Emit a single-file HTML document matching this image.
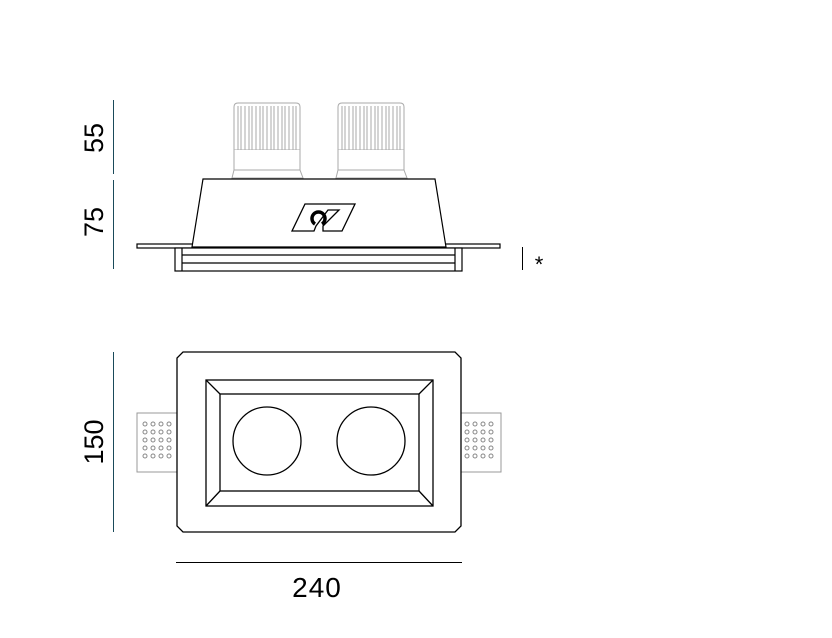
<!DOCTYPE html>
<html><head><meta charset="utf-8"><style>body{margin:0;background:#fff}svg{display:block}</style></head><body>
<svg width="832" height="638" viewBox="0 0 832 638" xmlns="http://www.w3.org/2000/svg" font-family="Liberation Sans, sans-serif">
<g stroke="#1a4a5a" stroke-width="1">
<line x1="113.5" y1="100" x2="113.5" y2="174"/>
<line x1="113.5" y1="180" x2="113.5" y2="269"/>
<line x1="113.5" y1="352" x2="113.5" y2="532"/>
</g>
<g font-size="27" fill="#000" text-anchor="middle">
<text transform="translate(103,138) rotate(-90)">55</text>
<text transform="translate(103,222) rotate(-90)">75</text>
<text transform="translate(103,442) rotate(-90)">150</text>
<text x="317" y="597" font-size="28" letter-spacing="1">240</text>
<text x="539" y="272" font-size="22">*</text>
</g>
<line x1="176" y1="562.5" x2="462" y2="562.5" stroke="#000"/>
<line x1="522.5" y1="247" x2="522.5" y2="270" stroke="#000"/>
<g stroke="#aaa" fill="#fff" stroke-width="1">
<path d="M234,150 L234,107 Q234,103 238,103 L296,103 Q300,103 300,107 L300,150 Z"/>
<path d="M234,150 L234,170 L232,178 L303,178 L300,170 L300,150"/>
<line x1="234" y1="170" x2="300" y2="170"/>
<path d="M338,150 L338,107 Q338,103 342,103 L400,103 Q404,103 404,107 L404,150 Z"/>
<path d="M338,150 L338,170 L336,178 L407,178 L404,170 L404,150"/>
<line x1="338" y1="170" x2="404" y2="170"/>
</g>
<g stroke="#aaa" stroke-width="1">
<path d="M238,106V150M241,106V150M245,106V150M249,106V150M252,106V150M256,106V150M260,106V150M263,106V150M267,106V150M271,106V150M274,106V150M278,106V150M282,106V150M285,106V150M289,106V150M293,106V150M296,106V150"/>
<path d="M342,106V150M345,106V150M349,106V150M353,106V150M356,106V150M360,106V150M364,106V150M367,106V150M371,106V150M375,106V150M378,106V150M382,106V150M386,106V150M389,106V150M393,106V150M397,106V150M400,106V150"/>
</g>
<g stroke="#000" fill="#fff" stroke-width="1.2">
<rect x="137" y="244" width="363" height="4"/>
<path d="M203,179 L435,179 L446,247 L192,247 Z"/>
<rect x="175" y="248" width="287" height="23"/>
<line x1="182" y1="255" x2="455" y2="255"/>
<line x1="182" y1="263" x2="455" y2="263"/>
<line x1="182" y1="248" x2="182" y2="271"/>
<line x1="455" y1="248" x2="455" y2="271"/>
</g>
<path d="M305,204 L355,204 L342,231 L323,231 L323,226 L339,210 L328,210 L316,226 L314,231 L292,231 Z" fill="#fff" stroke="#000" stroke-width="1.3"/>
<path d="M315,224 A6.5,6.5 0 1 1 322,224" fill="none" stroke="#000" stroke-width="3.5"/>
<g stroke="#999" fill="#fff" stroke-width="1">
<rect x="137" y="413" width="40" height="59"/>
<rect x="461" y="413" width="40" height="59"/>
</g>
<g fill="none" stroke="#888" stroke-width="1">
<g id="d">
<circle cx="145" cy="424" r="2"/><circle cx="153" cy="424" r="2"/><circle cx="161" cy="424" r="2"/><circle cx="169" cy="424" r="2"/>
<circle cx="145" cy="432" r="2"/><circle cx="153" cy="432" r="2"/><circle cx="161" cy="432" r="2"/><circle cx="169" cy="432" r="2"/>
<circle cx="145" cy="440" r="2"/><circle cx="153" cy="440" r="2"/><circle cx="161" cy="440" r="2"/><circle cx="169" cy="440" r="2"/>
<circle cx="145" cy="448" r="2"/><circle cx="153" cy="448" r="2"/><circle cx="161" cy="448" r="2"/><circle cx="169" cy="448" r="2"/>
<circle cx="145" cy="456" r="2"/><circle cx="153" cy="456" r="2"/><circle cx="161" cy="456" r="2"/><circle cx="169" cy="456" r="2"/>
</g>
<use href="#d" x="322"/>
</g>
<g stroke="#000" fill="#fff" stroke-width="1.3">
<path d="M183,352 L455,352 L461,358 L461,526 L455,532 L183,532 L177,526 L177,358 Z"/>
<rect x="206" y="380" width="227" height="126"/>
<rect x="220" y="394" width="199" height="97"/>
<path d="M206,380 L220,394 M433,380 L419,394 M206,506 L220,491 M433,506 L419,491" fill="none"/>
<circle cx="267" cy="441" r="34"/>
<circle cx="371" cy="441" r="34"/>
</g>
</svg>
</body></html>
